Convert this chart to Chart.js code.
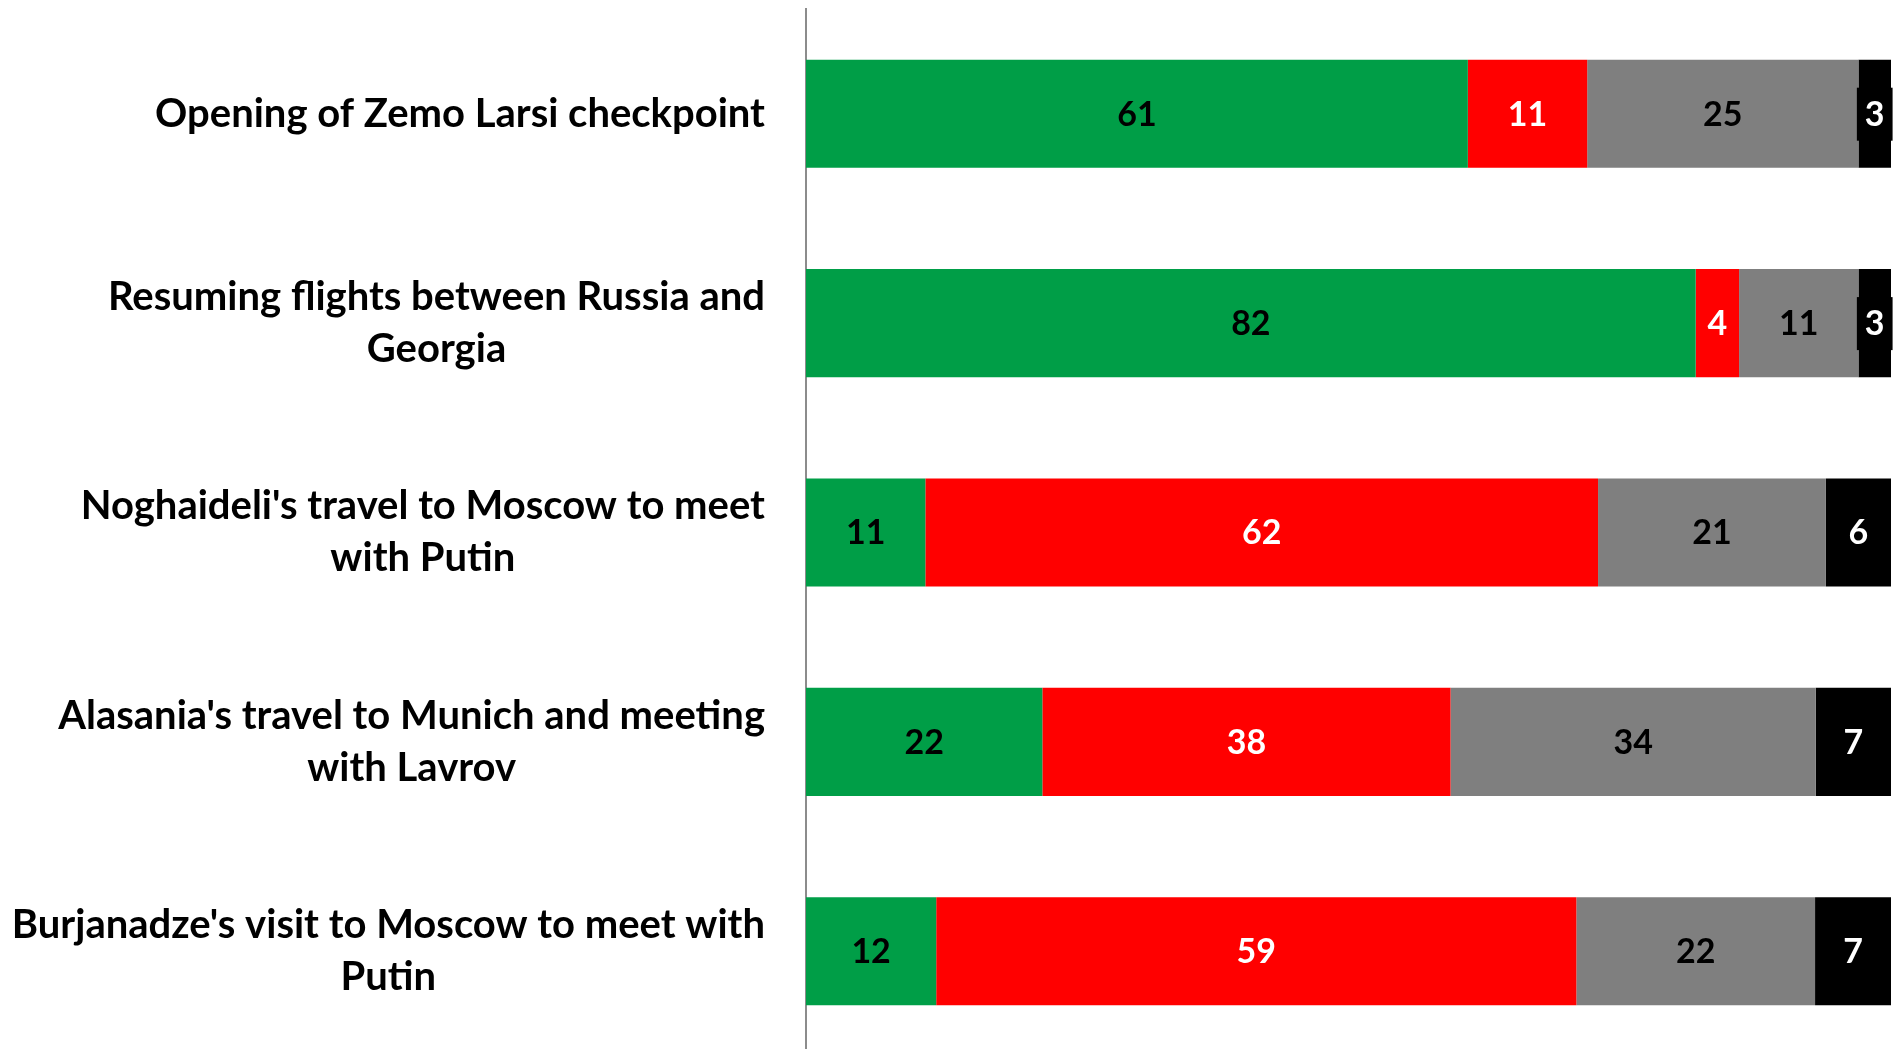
<!DOCTYPE html>
<html>
<head>
<meta charset="utf-8">
<title>Attitudes towards recent events</title>
<script src="https://cdn.jsdelivr.net/npm/chart.js@4"></script>
<style>
  html, body { margin: 0; padding: 0; background: #fff; overflow: hidden; }
  #wrap { position: relative; width: 1896px; height: 1056px; }
</style>
</head>
<body>
<div id="wrap"><canvas id="events"></canvas></div>
<script>
const events = [
  ['Opening of Zemo Larsi checkpoint'],
  ['Resuming flights between Russia and', 'Georgia'],
  ["Noghaideli's travel to Moscow to meet", 'with Putin'],
  ["Alasania's travel to Munich and meeting", 'with Lavrov'],
  ["Burjanadze's visit to Moscow to meet with", 'Putin']
];
const approve = [61, 82, 11, 22, 12];
const disapprove = [11, 4, 62, 38, 59];
const neither = [25, 11, 21, 34, 22];
const dontKnow = [3, 3, 6, 7, 7];

// each row is shown as a share of its own total (100% stacked)
const totals = approve.map((v, i) => v + disapprove[i] + neither[i] + dontKnow[i]);
const toShare = arr => arr.map((v, i) => v / totals[i] * 100);

const LABEL_FONT = 'bold 40px Lato';
const VALUE_FONT = 'bold 34px Lato';

// value labels in the middle of each segment
const segmentLabels = {
  id: 'segmentLabels',
  afterDatasetsDraw(chart) {
    const { ctx } = chart;
    ctx.save();
    ctx.font = VALUE_FONT;
    ctx.textAlign = 'center';
    ctx.textBaseline = 'middle';
    chart.data.datasets.forEach((ds, di) => {
      chart.getDatasetMeta(di).data.forEach((bar, i) => {
        const { x, y, base } = bar.getProps(['x', 'y', 'base'], true);
        const text = String(ds.raw[i]);
        const cx = (x + base) / 2;
        const tw = ctx.measureText(text).width;
        if (tw + 16 > Math.abs(x - base)) {
          // narrow segment: give the label its own filled box
          ctx.fillStyle = ds.backgroundColor;
          ctx.fillRect(cx - tw / 2 - 8, y - 26, tw + 16, 53);
        }
        ctx.fillStyle = ds.labelColor;
        ctx.fillText(text, cx, y + 1);
      });
    });
    ctx.restore();
  }
};

// category names: block right-aligned to the axis, lines centred inside the block
const categoryLabels = {
  id: 'categoryLabels',
  afterDraw(chart) {
    const { ctx } = chart;
    const yScale = chart.scales.y;
    ctx.save();
    ctx.font = LABEL_FONT;
    ctx.fillStyle = '#000';
    ctx.textAlign = 'center';
    ctx.textBaseline = 'middle';
    const right = yScale.right - 41;
    events.forEach((lines, i) => {
      const w = Math.max(...lines.map(l => ctx.measureText(l).width));
      const cx = right - w / 2;
      const cy = yScale.getPixelForValue(i);
      lines.forEach((line, j) => {
        ctx.fillText(line, cx, cy + (j - (lines.length - 1) / 2) * 52);
      });
    });
    ctx.restore();
  }
};

new Chart(document.getElementById('events'), {
  type: 'bar',
  data: {
    labels: events,
    datasets: [
      { label: 'Approve', data: toShare(approve), raw: approve, backgroundColor: '#009E47', labelColor: '#000' },
      { label: 'Disapprove', data: toShare(disapprove), raw: disapprove, backgroundColor: '#FF0000', labelColor: '#fff' },
      { label: 'Neither', data: toShare(neither), raw: neither, backgroundColor: '#7F7F7F', labelColor: '#000' },
      { label: "Don't know", data: toShare(dontKnow), raw: dontKnow, backgroundColor: '#000000', labelColor: '#fff' }
    ]
  },
  options: {
    indexAxis: 'y',
    responsive: true,
    maintainAspectRatio: false,
    animation: false,
    layout: { padding: { top: 9, right: 5 } },
    datasets: {
      bar: { categoryPercentage: 1, barPercentage: 0.516 }
    },
    scales: {
      x: { stacked: true, min: 0, max: 100, display: false },
      y: {
        stacked: true,
        ticks: { display: false },
        grid: { display: false },
        border: { color: '#8c8c8c', width: 2 },
        afterFit(scale) { scale.width = 806; }
      }
    },
    plugins: {
      legend: { display: false },
      tooltip: { enabled: false }
    }
  },
  plugins: [segmentLabels, categoryLabels]
});
</script>
</body>
</html>
